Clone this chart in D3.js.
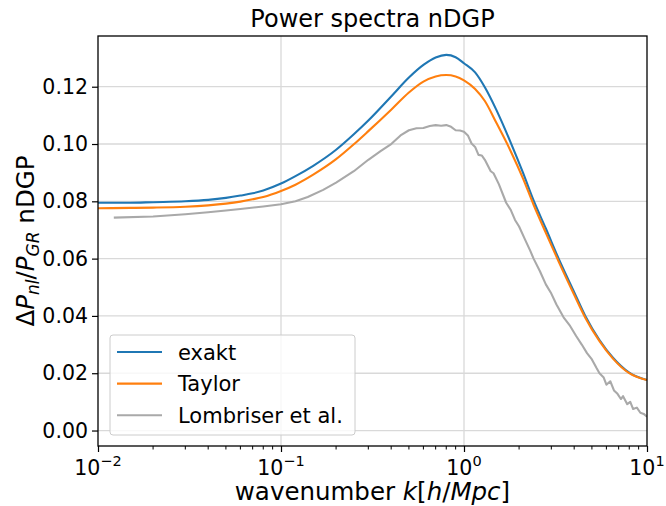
<!DOCTYPE html>
<meta charset="utf-8">
<head>
<style>
    body {margin: 0; background: #fff; font-family: "DejaVu Sans";}
    svg text {font-family: "DejaVu Sans"; fill: #000;}
</style>
<script src="https://d3js.org/d3.v7.min.js"></script>
</head>
<body>
    <div id="chart"></div>
<script>

// wavenumbers for the two model curves
var kModel = [0.01, 0.015, 0.02, 0.03, 0.04, 0.05, 0.06, 0.07, 0.08, 0.1, 0.12, 0.15, 0.2, 0.25, 0.3, 0.4,
    0.5, 0.6, 0.7, 0.8, 0.9, 1.0, 1.15, 1.3, 1.5, 1.8, 2.1, 2.4, 2.8, 3.3, 4.0, 4.6, 5.5, 6.5, 8.0, 10];
var exaktVals = [0.0795, 0.0795, 0.0797, 0.0800, 0.0805, 0.0812, 0.0820, 0.0828, 0.0838, 0.0862, 0.0888, 0.0924, 0.0980, 0.1034, 0.1082, 0.1166,
    0.1232, 0.1276, 0.1302, 0.1311, 0.1303, 0.1282, 0.1250, 0.1198, 0.1120, 0.1005, 0.0900, 0.0803, 0.0705, 0.0598, 0.0483, 0.0400, 0.0316, 0.0255, 0.0202, 0.0176];
var taylorVals = [0.0776, 0.0777, 0.0778, 0.0781, 0.0786, 0.0792, 0.0799, 0.0807, 0.0815, 0.0836, 0.0858, 0.0893, 0.0947, 0.0999, 0.1045, 0.1120,
    0.1180, 0.1218, 0.1236, 0.1241, 0.1236, 0.1222, 0.1192, 0.1150, 0.1075, 0.0975, 0.0880, 0.0788, 0.0690, 0.0588, 0.0474, 0.0394, 0.0312, 0.0252, 0.0200, 0.0176];

// Lombriser et al. (simulation, noisy)
var kLomb = [0.0122, 0.02, 0.03, 0.04, 0.05, 0.06, 0.08, 0.1, 0.12, 0.14, 0.17, 0.2, 0.25, 0.3, 0.35, 0.4, 0.45, 0.5, 0.55, 0.6,
    0.65, 0.7, 0.75, 0.8, 0.85, 0.9, 0.95, 1.0, 1.05, 1.1, 1.15, 1.2, 1.25, 1.3, 1.4, 1.45, 1.55, 1.7, 1.8, 1.9,
    2.0, 2.15, 2.3, 2.4, 2.6, 2.8, 3.0, 3.2, 3.5, 3.8, 4.1, 4.4, 4.7, 5.0, 5.3, 5.5, 5.8, 6.0, 6.3, 6.6,
    6.9, 7.2, 7.4, 7.8, 8.1, 8.4, 8.8, 9.2, 9.6, 10];
var lombVals = [0.0743, 0.0747, 0.0755, 0.0762, 0.0768, 0.0773, 0.0782, 0.0790, 0.0800, 0.0815, 0.0840, 0.0865, 0.0905, 0.0945, 0.0975, 0.1000, 0.1030, 0.1048, 0.1055, 0.1056,
    0.1063, 0.1066, 0.1064, 0.1066, 0.1060, 0.1048, 0.1047, 0.1043, 0.1030, 0.1002, 0.0990, 0.0962, 0.0960, 0.0945, 0.0905, 0.0898, 0.0860, 0.0795, 0.0770, 0.0735,
    0.0712, 0.0668, 0.0628, 0.0600, 0.0556, 0.0510, 0.0478, 0.0440, 0.0395, 0.0365, 0.0330, 0.0300, 0.0270, 0.0248, 0.0218, 0.0200, 0.0185, 0.0160, 0.0172, 0.0140,
    0.0128, 0.0110, 0.0120, 0.0092, 0.0100, 0.0075, 0.0080, 0.0062, 0.0058, 0.0048];

var yTicks = [0, 0.02, 0.04, 0.06, 0.08, 0.10, 0.12];
var xTicks = [0.01, 0.1, 1, 10];
var xTickExp = ["\u22122", "\u22121", "0", "1"];
var legendNames = ["exakt", "Taylor", "Lombriser et al."];
var colors = ["#1f77b4", "#ff7f0e", "#a9a9a9"];

var width = 666, height = 506;
var pL = 98, pR = 647, pT = 36, pB = 446;
var fs = 20.5;      // tick labels
var labFs = 24.5;   // axis labels and title

var svg = d3.select("#chart").append("svg")
    .attr("width", width)
    .attr("height", height);

var x = d3.scaleLog().domain([0.01, 10]).range([pL, pR]);
var y = d3.scaleLinear().domain([-0.0054, 0.1377]).range([pB, pT]);

svg.append("clipPath").attr("id", "clip")
    .append("rect").attr("x", pL).attr("y", pT).attr("width", pR - pL).attr("height", pB - pT);

// grid
var grid = svg.append("g").style("stroke", "#d9d9d9").style("stroke-width", 1.3);
grid.selectAll("line.gx").data(xTicks.slice(1, 3)).enter().append("line")
    .attr("x1", function(d) { return x(d); }).attr("x2", function(d) { return x(d); })
    .attr("y1", pT).attr("y2", pB);
grid.selectAll("line.gy").data(yTicks).enter().append("line")
    .attr("x1", pL).attr("x2", pR)
    .attr("y1", function(d) { return y(d); }).attr("y2", function(d) { return y(d); });

// curves: model curves smoothed, simulation drawn point to point
var smooth = d3.line()
    .curve(d3.curveMonotoneX)
    .x(function(d) { return x(d[0]); })
    .y(function(d) { return y(d[1]); });
var straight = d3.line()
    .x(function(d) { return x(d[0]); })
    .y(function(d) { return y(d[1]); });

var series = [d3.zip(kModel, exaktVals), d3.zip(kModel, taylorVals), d3.zip(kLomb, lombVals)];
var plot = svg.append("g").attr("clip-path", "url(#clip)");
plot.selectAll("path").data(series).enter().append("path")
    .attr("d", function(d, i) { return i < 2 ? smooth(d) : straight(d); })
    .style("fill", "none")
    .style("stroke", function(d, i) { return colors[i]; })
    .style("stroke-width", 2.1)
    .style("stroke-linejoin", "round");

// axes
var yAxis = svg.append("g").attr("transform", "translate(" + pL + ",0)")
    .call(d3.axisLeft(y).tickValues(yTicks).tickFormat(d3.format(".2f")).tickSize(6).tickPadding(4));
var xAxis = svg.append("g").attr("transform", "translate(0," + pB + ")")
    .call(d3.axisBottom(x).tickValues(xTicks).tickFormat("").tickSize(6));

var minor = [];
[0.01, 0.1, 1].forEach(function(dec) {
    for (var m = 2; m <= 9; m++) minor.push(dec * m);
});
svg.append("g").selectAll("line").data(minor).enter().append("line")
    .attr("x1", function(d) { return x(d); }).attr("x2", function(d) { return x(d); })
    .attr("y1", pB).attr("y2", pB + 3.5)
    .style("stroke", "#000").style("stroke-width", 1);

svg.selectAll(".domain").remove();
svg.selectAll(".tick line").style("stroke", "#000").style("stroke-width", 1.2);
yAxis.selectAll("text").style("font-size", fs + "px").style("font-family", "DejaVu Sans");

var xLab = svg.append("g").selectAll("text").data(xTicks).enter().append("text")
    .attr("x", function(d) { return x(d); })
    .attr("y", 475)
    .attr("text-anchor", "middle")
    .style("font-size", fs + "px");
xLab.append("tspan").text("10");
xLab.append("tspan").attr("dy", -9).style("font-size", "14.5px").text(function(d, i) { return xTickExp[i]; });

// frame
svg.append("rect").attr("x", pL).attr("y", pT).attr("width", pR - pL).attr("height", pB - pT)
    .style("fill", "none").style("stroke", "#000").style("stroke-width", 1.3);

// title and axis labels
svg.append("text").attr("x", (pL + pR) / 2).attr("y", 27).attr("text-anchor", "middle")
    .style("font-size", "24px").text("Power spectra nDGP");

var xt = svg.append("text").attr("x", (pL + pR) / 2).attr("y", 500).attr("text-anchor", "middle")
    .style("font-size", labFs + "px");
xt.append("tspan").text("wavenumber ");
xt.append("tspan").style("font-style", "italic").text("k");
xt.append("tspan").text("[");
xt.append("tspan").style("font-style", "italic").text("h");
xt.append("tspan").text("/");
xt.append("tspan").style("font-style", "italic").text("Mpc");
xt.append("tspan").text("]");

var yt = svg.append("text")
    .attr("transform", "translate(34," + ((pT + pB) / 2) + ") rotate(-90)")
    .attr("text-anchor", "middle")
    .style("font-size", labFs + "px");
yt.append("tspan").text("\u0394");
yt.append("tspan").style("font-style", "italic").text("P");
yt.append("tspan").attr("dy", 5).style("font-style", "italic").style("font-size", "17px").text("nl");
yt.append("tspan").attr("dy", -5).text("/");
yt.append("tspan").style("font-style", "italic").text("P");
yt.append("tspan").attr("dy", 5).style("font-style", "italic").style("font-size", "17px").text("GR");
yt.append("tspan").attr("dy", -5).text(" nDGP");

// legend
var legend = svg.append("g");
legend.append("rect").attr("x", 110).attr("y", 335).attr("width", 245).attr("height", 100)
    .attr("rx", 3).style("fill", "#fff").style("fill-opacity", 0.8)
    .style("stroke", "#cccccc").style("stroke-width", 1);
var entries = legend.selectAll("g.entry").data(legendNames).enter().append("g")
    .attr("transform", function(d, i) { return "translate(0," + (352 + i * 31.6) + ")"; });
entries.append("line").attr("x1", 117).attr("x2", 162).attr("y1", 0).attr("y2", 0)
    .style("stroke", function(d, i) { return colors[i]; }).style("stroke-width", 2.1);
entries.append("text").attr("x", 178).attr("y", 7.5).style("font-size", "21px")
    .text(function(d) { return d; });

</script>
</body>
